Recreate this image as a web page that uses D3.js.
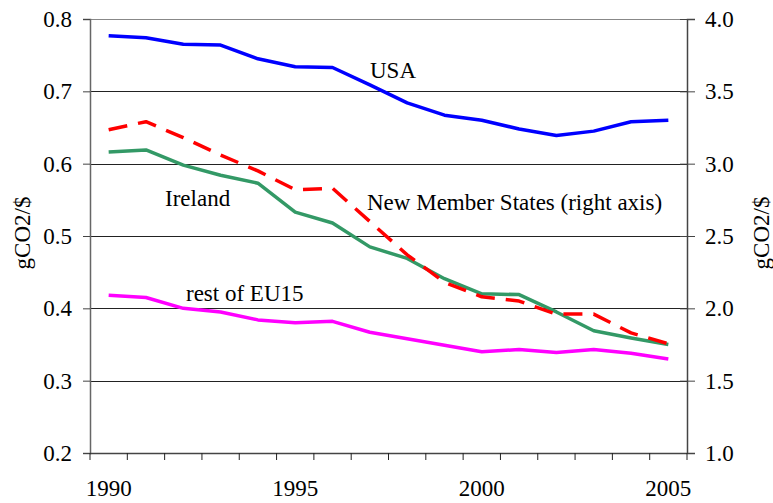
<!DOCTYPE html>
<html lang="en">
<head>
    <meta charset="UTF-8">
    <title>gCO2/$ intensity</title>
    <script src="https://cdnjs.cloudflare.com/ajax/libs/d3/7.8.5/d3.min.js"></script>
    <style>
        body {
            margin: 0;
            padding: 0;
            background-color: #fff;
        }
    </style>
</head>
<body>
    <div id="chart"></div>

    <script>
        // Data
        const years = d3.range(1990, 2006);
        const yearLabels = [1990, 1995, 2000, 2005];
        const leftTicks = [0.2, 0.3, 0.4, 0.5, 0.6, 0.7, 0.8];
        const rightTicks = [1.0, 1.5, 2.0, 2.5, 3.0, 3.5, 4.0];

        // left axis series
        const usa = [0.777, 0.774, 0.765, 0.764, 0.745, 0.734, 0.733, 0.709, 0.684, 0.667, 0.660, 0.648, 0.639, 0.645, 0.658, 0.660];
        const ireland = [0.616, 0.619, 0.598, 0.584, 0.573, 0.533, 0.518, 0.485, 0.469, 0.441, 0.420, 0.419, 0.395, 0.369, 0.359, 0.350];
        const restEU15 = [0.418, 0.415, 0.400, 0.395, 0.384, 0.380, 0.382, 0.367, 0.358, 0.349, 0.340, 0.343, 0.339, 0.343, 0.338, 0.330];
        // right axis series
        const newMembers = [3.235, 3.29, 3.18, 3.06, 2.95, 2.82, 2.83, 2.60, 2.37, 2.18, 2.08, 2.05, 1.96, 1.96, 1.83, 1.755];

        const width = 773;
        const height = 503;
        const plotLeft = 90, plotRight = 687, plotTop = 19, plotBottom = 453;
        const serif = '"Liberation Serif", "Times New Roman", serif';

        const svg = d3.select("#chart")
            .append("svg")
            .attr("width", width)
            .attr("height", height)
            .style("font-family", serif)
            .style("font-size", "23px");

        const x = d3.scaleBand()
            .domain(years)
            .range([plotLeft, plotRight])
            .padding(0);
        const cx = d => x(d) + x.bandwidth() / 2;

        const yL = d3.scaleLinear().domain([0.2, 0.8]).range([plotBottom, plotTop]);
        const yR = d3.scaleLinear().domain([1.0, 4.0]).range([plotBottom, plotTop]);

        // gridlines
        svg.append("g")
            .selectAll("line")
            .data(leftTicks)
            .join("line")
            .attr("x1", plotLeft)
            .attr("x2", plotRight)
            .attr("y1", d => Math.round(yL(d)) + 0.5)
            .attr("y2", d => Math.round(yL(d)) + 0.5)
            .attr("stroke", d => d === 0.8 ? "#888" : "#222")
            .attr("stroke-width", 1);

        // left axis
        const axL = svg.append("g")
            .attr("transform", `translate(${plotLeft},0)`)
            .call(d3.axisLeft(yL).tickValues(leftTicks).tickFormat(d3.format(".1f")).tickSize(7).tickPadding(11));
        axL.attr("font-family", null).attr("font-size", null);
        axL.select(".domain").attr("stroke", "#666").attr("stroke-width", 1.5);
        axL.selectAll(".tick line").attr("stroke", "#444");
        axL.selectAll("text").attr("dy", "0.33em").style("font-family", serif).style("font-size", "23px");

        // right axis
        const axR = svg.append("g")
            .attr("transform", `translate(${plotRight},0)`)
            .call(d3.axisRight(yR).tickValues(rightTicks).tickFormat(d3.format(".1f")).tickSize(8).tickPadding(10));
        axR.attr("font-family", null).attr("font-size", null);
        axR.select(".domain").attr("stroke", "#444").attr("stroke-width", 1.5);
        axR.selectAll(".tick line").attr("x1", -7).attr("stroke", "#444");
        axR.selectAll("text").attr("dy", "0.33em").style("font-family", serif).style("font-size", "23px");

        // x axis: ticks on category boundaries, labels every 5 years
        const xg = svg.append("g");
        xg.append("line")
            .attr("x1", plotLeft).attr("x2", plotRight)
            .attr("y1", plotBottom + 0.5).attr("y2", plotBottom + 0.5)
            .attr("stroke", "#444").attr("stroke-width", 1.5);
        xg.selectAll(".xtick")
            .data(years.concat([2006]))
            .join("line")
            .attr("class", "xtick")
            .attr("x1", d => d === 2006 ? plotRight : x(d))
            .attr("x2", d => d === 2006 ? plotRight : x(d))
            .attr("y1", plotBottom)
            .attr("y2", plotBottom + 7)
            .attr("stroke", "#222");
        xg.selectAll(".xlabel")
            .data(yearLabels)
            .join("text")
            .attr("class", "xlabel")
            .attr("x", d => cx(d))
            .attr("y", 496)
            .attr("text-anchor", "middle")
            .text(d => d);

        // series lines
        const lineL = d3.line().x((d, i) => cx(years[i])).y(d => yL(d));
        const lineR = d3.line().x((d, i) => cx(years[i])).y(d => yR(d));

        const series = [
            { values: restEU15, line: lineL, color: "#ff00ff", dash: null },
            { values: ireland, line: lineL, color: "#339966", dash: null },
            { values: newMembers, line: lineR, color: "#ff0000", dash: "19,11" },
            { values: usa, line: lineL, color: "#0000ff", dash: null }
        ];

        svg.append("g")
            .selectAll("path")
            .data(series)
            .join("path")
            .attr("d", d => d.line(d.values))
            .attr("fill", "none")
            .attr("stroke", d => d.color)
            .attr("stroke-width", 3.5)
            .attr("stroke-dasharray", d => d.dash)
            .attr("stroke-linejoin", "round");

        // in-chart labels
        const labels = [
            { text: "USA", x: 370, y: 78 },
            { text: "Ireland", x: 165, y: 206 },
            { text: "New Member States (right axis)", x: 367, y: 210 },
            { text: "rest of EU15", x: 186, y: 301 }
        ];
        svg.append("g")
            .selectAll("text")
            .data(labels)
            .join("text")
            .attr("x", d => d.x)
            .attr("y", d => d.y)
            .text(d => d.text);

        // axis titles
        svg.append("text")
            .attr("transform", "translate(30,233) rotate(-90)")
            .attr("text-anchor", "middle")
            .text("gCO2/$");
        svg.append("text")
            .attr("transform", "translate(769,233) rotate(-90)")
            .attr("text-anchor", "middle")
            .text("gCO2/$");
    </script>
</body>
</html>
